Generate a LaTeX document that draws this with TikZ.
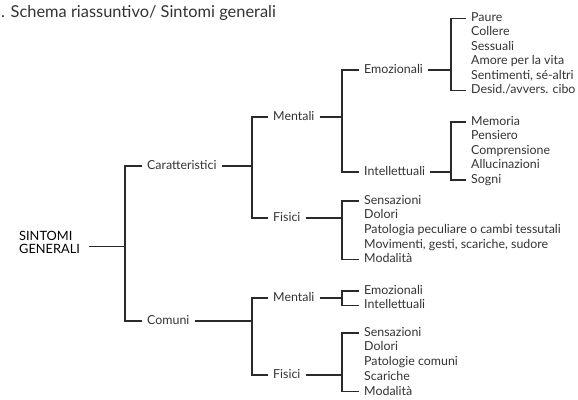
\documentclass[tikz,border=0pt]{standalone}
\usepackage{fontspec}
\setmainfont{Lato}
\definecolor{txt}{HTML}{333333}
\definecolor{lin}{HTML}{2A2A2A}
\begin{document}
\begin{tikzpicture}[x=1pt,y=-1pt,
  lbl/.style={anchor=west,inner xsep=5pt,inner ysep=0pt,text height=6.5pt,text depth=0pt,
              font=\fontsize{12.4}{14}\selectfont,text=txt},
  rootlbl/.style={anchor=west,inner xsep=9pt,inner ysep=0pt,align=left,
              font=\fontsize{12.8}{13.3}\selectfont,text=black},
  ln/.style={draw=lin,line width=1.1pt}
]
\useasboundingbox (0,0) rectangle (578,399);
\node[anchor=base west,inner sep=0pt,font=\fontsize{16.4}{18}\selectfont,text=txt] (title) at (1,17.5) {. Schema riassuntivo/ Sintomi generali};

% root
\node[rootlbl] (root) at (10,242.5) {SINTOMI\\GENERALI};
\coordinate (j0) at (125,246.7);
\draw[ln] (root.east |- j0) -- (j0);

% column 1
\node[lbl] (car) at (142,166) {Caratteristici};
\node[lbl] (com) at (142,321) {Comuni};
\draw[ln] (car.west) -| (j0) |- (com.west);

% column 2
\coordinate (j1) at (252,166);
\coordinate (j2) at (252,321);
\node[lbl] (m1) at (268,117) {Mentali};
\node[lbl] (f1) at (268,218) {Fisici};
\node[lbl] (m2) at (268,298) {Mentali};
\node[lbl] (f2) at (268,375) {Fisici};
\draw[ln] (car.east) -- (j1);
\draw[ln] (m1.west) -| (j1) |- (f1.west);
\draw[ln] (com.east) -- (j2);
\draw[ln] (m2.west) -| (j2) |- (f2.west);

% column 3
\coordinate (j3) at (342,117);
\coordinate (j4) at (342,218);
\coordinate (j5) at (342,298);
\coordinate (j6) at (342,375);
\node[lbl] (e1) at (359,70) {Emozionali};
\node[lbl] (i1) at (359,172) {Intellettuali};
\draw[ln] (m1.east) -- (j3);
\draw[ln] (e1.west) -| (j3) |- (i1.west);

\foreach \t [count=\i] in {Sensazioni,Dolori,Patologia peculiare o cambi tessutali,{Movimenti, gesti, scariche, sudore},Modalità}
  \node[lbl] (fa\i) at (359,{201+14.6*(\i-1)}) {\t};
\draw[ln] (f1.east) -- (j4);
\draw[ln] (fa1.west) -| (j4) |- (fa5.west);

\node[lbl] (e2) at (359,291) {Emozionali};
\node[lbl] (i2) at (359,305.6) {Intellettuali};
\draw[ln] (m2.east) -- (j5);
\draw[ln] (e2.west) -| (j5) |- (i2.west);

\foreach \t [count=\i] in {Sensazioni,Dolori,Patologie comuni,Scariche,Modalità}
  \node[lbl] (fb\i) at (359,{333+14.7*(\i-1)}) {\t};
\draw[ln] (f2.east) -- (j6);
\draw[ln] (fb1.west) -| (j6) |- (fb5.west);

% column 4
\coordinate (j7) at (451,70);
\coordinate (j8) at (451,172);
\foreach \t [count=\i] in {Paure,Collere,Sessuali,Amore per la vita,{Sentimenti, sé-altri},Desid./avvers. cibo}
  \node[lbl] (ea\i) at (466,{18.3+14.4*(\i-1)}) {\t};
\draw[ln] (e1.east) -- (j7);
\draw[ln] (ea1.west) -| (j7) |- (ea6.west);

\foreach \t [count=\i] in {Memoria,Pensiero,Comprensione,Allucinazioni,Sogni}
  \node[lbl] (ia\i) at (466,{122+14.5*(\i-1)}) {\t};
\draw[ln] (i1.east) -- (j8);
\draw[ln] (ia1.west) -| (j8) |- (ia5.west);
\end{tikzpicture}
\end{document}
